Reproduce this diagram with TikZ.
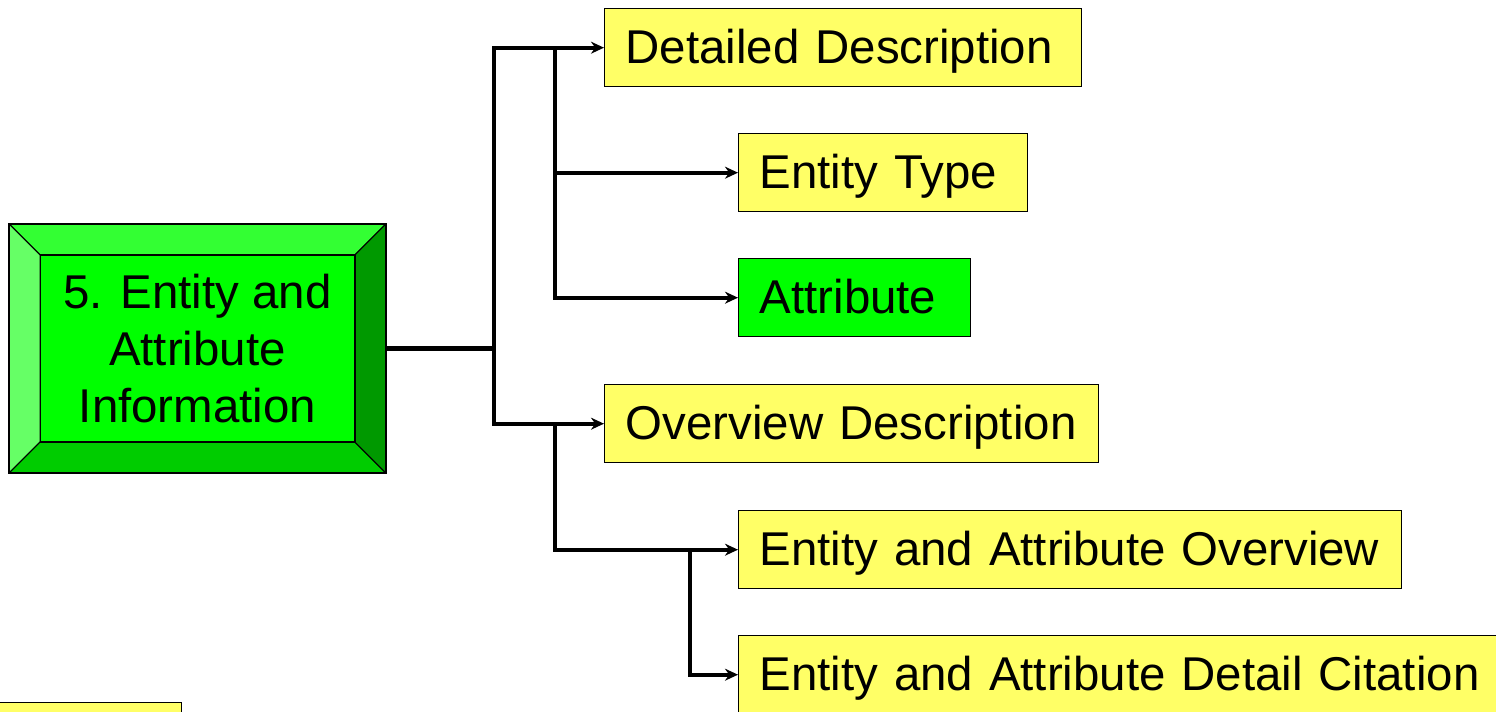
\documentclass[tikz,border=0pt]{standalone}
\usepackage{fontspec}
\setmainfont{Liberation Sans}
\usepackage{xcolor}
\usepackage{tikz}
\usetikzlibrary{calc, arrows.meta, positioning}

\definecolor{boxyellow}{RGB}{255,255,102}
\definecolor{bevtop}{RGB}{51,255,51}
\definecolor{bevleft}{RGB}{102,255,102}
\definecolor{bevface}{RGB}{0,255,0}
\definecolor{bevbottom}{RGB}{0,204,0}
\definecolor{bevright}{RGB}{0,153,0}

\tikzset{
    big/.style={font=\fontsize{27}{32.4}\selectfont},
    item/.style={draw=black, line width=0.8pt, fill=boxyellow, big, anchor=north west,
        inner xsep=0.42cm, inner ysep=0pt, minimum height=1.56cm, text width=#1, align=left,
        text height=24pt, text depth=5.5pt},
    link/.style={line width=2.4pt, black},
    bevel/.style={path picture={
        \coordinate (bnw) at (path picture bounding box.north west);
        \coordinate (bne) at (path picture bounding box.north east);
        \coordinate (bsw) at (path picture bounding box.south west);
        \coordinate (bse) at (path picture bounding box.south east);
        \coordinate (inw) at ($(bnw)+(0.62cm,-0.62cm)$);
        \coordinate (ine) at ($(bne)+(-0.62cm,-0.62cm)$);
        \coordinate (isw) at ($(bsw)+(0.62cm,0.62cm)$);
        \coordinate (ise) at ($(bse)+(-0.62cm,0.62cm)$);
        \filldraw[bevtop, draw=black, line width=0.6pt] (bnw) -- (bne) -- (ine) -- (inw) -- cycle;
        \filldraw[bevleft, draw=black, line width=0.6pt] (bnw) -- (inw) -- (isw) -- (bsw) -- cycle;
        \filldraw[bevbottom, draw=black, line width=0.6pt] (bsw) -- (isw) -- (ise) -- (bse) -- cycle;
        \filldraw[bevright, draw=black, line width=0.6pt] (bne) -- (ine) -- (ise) -- (bse) -- cycle;
        \filldraw[bevface, draw=black, line width=0.6pt] (inw) rectangle (ise);
    }}
}

\begin{document}
\begin{tikzpicture}[x=0.02cm, y=-0.02cm, >={Stealth[length=7.4pt, width=6.8pt]}]
    \useasboundingbox (0,0) rectangle (1496,712);

    % main block with bevelled frame
    \node[draw=black, line width=1pt, bevel, big, align=center,
          minimum width=7.54cm, minimum height=4.98cm, inner sep=0pt]
        (main) at (197.5,348.5) {5. Entity and\\Attribute\\Information};

    % right-hand boxes
    \node[item=8.7cm]   (detail)   at (604,8)   {Detailed Description};
    \node[item=4.94cm]  (etype)    at (738,133) {Entity Type};
    \node[item=3.8cm, fill=bevface] (attr) at (738,258) {Attribute};
    \node[item=9.04cm]  (overview) at (604,384) {Overview Description};
    \node[item=12.42cm] (eaover)   at (738,510) {Entity and Attribute Overview};
    \node[item=14.44cm] (eacite)   at (738,635) {Entity and Attribute Detail Citation};

    % box cut off at the lower left
    \node[item=3.98cm] (stub) at (-60,702) {};

    % junction columns
    \coordinate (trunk) at (494,0);
    \coordinate (spine) at (555,0);
    \coordinate (fork)  at (690,0);

    % connectors
    \draw[link,->] (main.east) -- (main.east -| trunk) |- (overview.west);
    \draw[link,->] (main.east -| trunk) |- (detail.west);
    \draw[link,->] (detail.west -| spine) |- (attr.west);
    \draw[link,->] (etype.west -| spine) -- (etype.west);
    \draw[link,->] (overview.west -| spine) |- (eaover.west);
    \draw[link,->] (eaover.west -| fork) |- (eacite.west);
\end{tikzpicture}
\end{document}
